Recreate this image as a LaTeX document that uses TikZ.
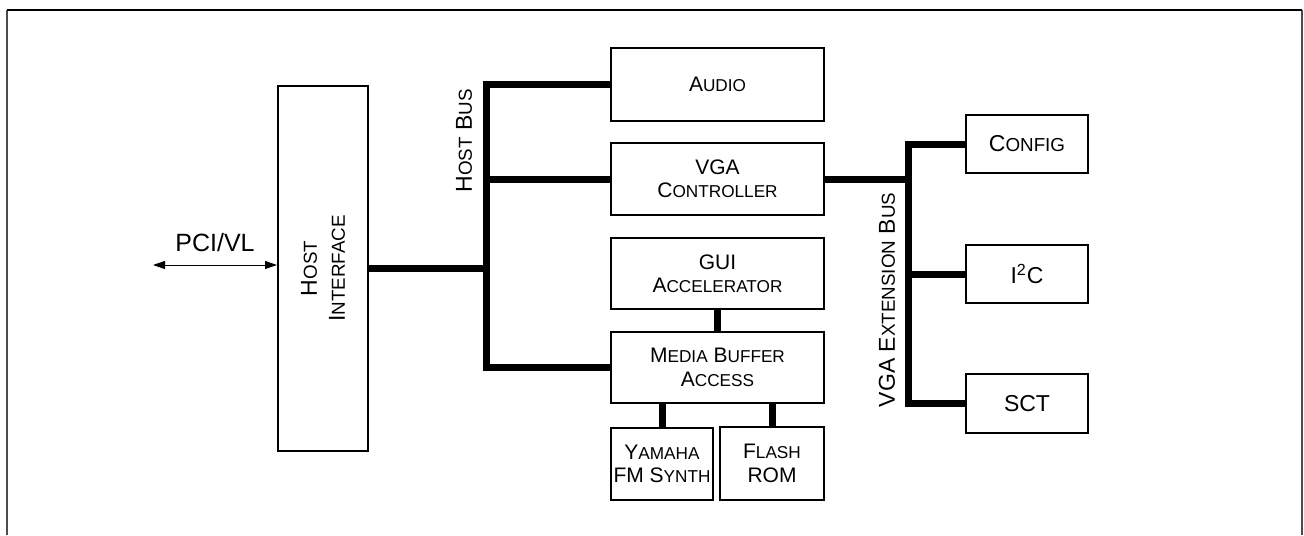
\documentclass[tikz,border=0pt]{standalone}
\usepackage{fontspec}
\setmainfont{Liberation Sans}
\usepackage{tikz}
\usetikzlibrary{arrows.meta}
\def\smcsize{8.6}
\newcommand\smc[1]{{\fontsize{\smcsize}{12}\selectfont #1}}

\begin{document}
\begin{tikzpicture}[
  x=0.5pt, y=-0.5pt,
  block/.style={
    draw, line width=1pt, inner sep=0pt,
    minimum width=#1, align=center,
    font=\fontsize{10.5}{11.7}\selectfont,
  },
  block/.default=106.5pt,
  large/.style={font={\def\smcsize{9.4}\fontsize{11.5}{14}\selectfont}},
  buslabel/.style={large, rotate=90},
  bus/.style={line width=3.5pt},
  frame/.style={line width=1pt, black!70},
  >={Triangle[length=6pt,width=4pt]},
]
\useasboundingbox (0,0) rectangle (1304,535);

% Frame (open at the bottom)
\draw[frame] (7,535) -- (7,10);
\draw[frame] (1302,10) -- (1302,535);
\draw[line width=1pt] (7,10) -- (1302,10);

% Host interface
\node[block=182.5pt, large, rotate=90, minimum height=45pt] (host) at (323,268.5)
  {H\smc{OST}\\I\smc{NTERFACE}};
\coordinate (pci) at (153,265);
\draw[<->, line width=0.5pt] (pci) -- (pci -| host.north)
  node[midway, above=3pt, font=\fontsize{12.5}{12}\selectfont] {PCI/VL};

% Host bus blocks
\node[block, minimum height=36.5pt] (audio) at (717.5,84.5) {A\smc{UDIO}};
\node[block, minimum height=36pt] (vga) at (717.5,179) {VGA\\C\smc{ONTROLLER}};
\node[block, minimum height=35.5pt] (gui) at (717.5,273.5) {GUI\\A\smc{CCELERATOR}};
\node[block, minimum height=35.5pt] (mba) at (717.5,367.5) {M\smc{EDIA} B\smc{UFFER}\\A\smc{CCESS}};
\node[block=51pt, minimum height=36pt] (yamaha) at (662,464) {Y\smc{AMAHA}\\FM S\smc{YNTH}};
\node[block=52pt, minimum height=36.5pt] (flash) at (772,463.5) {F\smc{LASH}\\ROM};

% VGA extension blocks
\node[block=61pt, large, minimum height=29pt] (config) at (1027,144) {C\smc{ONFIG}};
\node[block=61pt, large, minimum height=29pt] (iic) at (1027,274) {I\textsuperscript{2}C};
\node[block=61pt, large, minimum height=29.5pt] (sct) at (1027,403.5) {SCT};

% Host bus
\coordinate (hb) at (486,268.5);
\draw[bus] (host.south) -- (hb);
\draw[bus] (audio.west) -| (hb) |- (mba.west);
\draw[bus] (vga.west) -- (vga.west -| hb);
\node[buslabel] (hblabel) at (464,141) {H\smc{OST} B\smc{US}};

% Media buffer links
\draw[bus] (gui) -- (mba);
\draw[bus] (yamaha.north) -- (yamaha.north |- mba.south);
\draw[bus] (flash.north) -- (flash.north |- mba.south);

% VGA extension bus
\coordinate (eb) at (908,179);
\draw[bus] (vga.east) -- (eb);
\draw[bus] (config.west) -| (eb) |- (sct.west);
\draw[bus] (iic.west) -- (iic.west -| eb);
\node[buslabel] (eblabel) at (887,300) {VGA E\smc{XTENSION} B\smc{US}};

\end{tikzpicture}
\end{document}
